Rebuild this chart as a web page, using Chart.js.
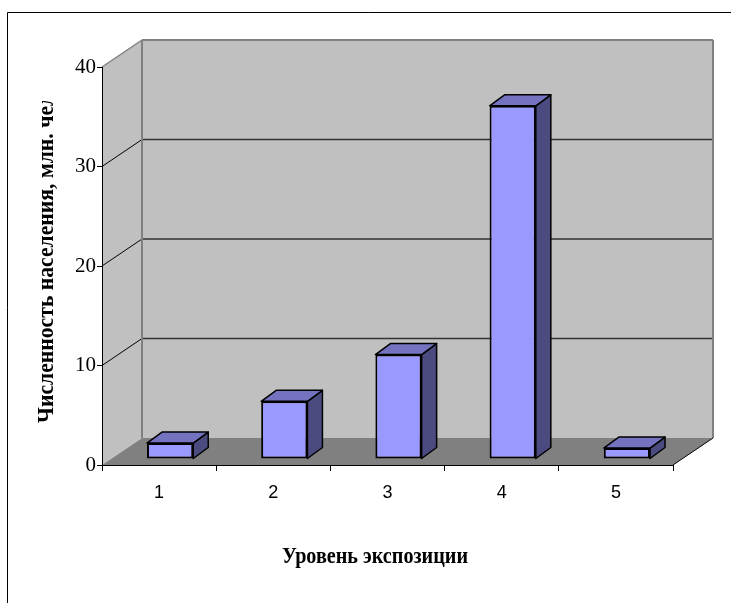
<!DOCTYPE html>
<html>
<head>
<meta charset="utf-8">
<style>
  html, body { margin: 0; padding: 0; background: #fff; overflow: hidden; }
  canvas { display: block; }
</style>
<script src="https://cdn.jsdelivr.net/npm/chart.js@4/dist/chart.umd.min.js"></script>
</head>
<body>
<canvas id="c" width="731" height="603"></canvas>
<script>
// Population by exposure level (millions)
const categories = ['1', '2', '3', '4', '5'];
const population = [1.6, 5.8, 10.5, 35.5, 1.1];
const yMin = 0, yMax = 40, yStep = 10;
const xTitle = 'Уровень экспозиции';
const yTitle = 'Численность населения, млн. чел';

// Pseudo-3D geometry: wall depth, bar row offset, bar depth
const WALL = { dx: 40, dy: -27 };
const ROW = { dx: 11, dy: -6 };
const BAR = { dx: 15, dy: -11 };

const COLORS = {
  wall: '#C0C0C0', floor: '#808080', edge: '#808080', grid: '#333333',
  front: '#9999FF', top: '#7373C0', side: '#4B4B80'
};

function poly(ctx, pts, fill, stroke, lw) {
  ctx.beginPath();
  ctx.moveTo(pts[0][0], pts[0][1]);
  for (let i = 1; i < pts.length; i++) ctx.lineTo(pts[i][0], pts[i][1]);
  ctx.closePath();
  if (fill) { ctx.fillStyle = fill; ctx.fill(); }
  if (stroke) { ctx.strokeStyle = stroke; ctx.lineWidth = lw || 1; ctx.stroke(); }
}
function line(ctx, x1, y1, x2, y2, color, lw) {
  ctx.beginPath();
  ctx.moveTo(x1, y1); ctx.lineTo(x2, y2);
  ctx.strokeStyle = color; ctx.lineWidth = lw; ctx.stroke();
}

const depthPlugin = {
  id: 'depth3d',
  beforeDraw(chart) {
    const ctx = chart.ctx, ca = chart.chartArea, ys = chart.scales.y;
    const L = ca.left, R = ca.right, T = ca.top, B = ca.bottom;
    const dx = WALL.dx, dy = WALL.dy;
    ctx.save();
    // outer frame
    line(ctx, 7.5, 603, 7.5, 12.5, '#000', 1);
    line(ctx, 7.5, 12.5, 731, 12.5, '#000', 1);
    // back wall, side wall, floor
    poly(ctx, [[L + dx, T + dy], [R + dx, T + dy], [R + dx, B + dy], [L + dx, B + dy]], COLORS.wall);
    poly(ctx, [[L, T], [L + dx, T + dy], [L + dx, B + dy], [L, B]], COLORS.wall);
    poly(ctx, [[L, B], [L + dx, B + dy], [R + dx, B + dy], [R, B]], COLORS.floor);
    // gridlines on the back wall and their runs across the side wall
    for (let v = yMin + yStep; v < yMax; v += yStep) {
      const y = ys.getPixelForValue(v);
      line(ctx, L + dx, y + dy, R + dx, y + dy, COLORS.grid, 1.5);
      line(ctx, L, y, L + dx, y + dy, '#000', 1);
    }
    // wall edges
    line(ctx, L, T, L + dx, T + dy, COLORS.edge, 1.5);
    line(ctx, L + dx, T + dy, R + dx, T + dy, COLORS.edge, 2);
    line(ctx, L + dx, T + dy, L + dx, B + dy, COLORS.edge, 2);
    line(ctx, R + dx, T + dy, R + dx, B + dy, COLORS.edge, 2);
    line(ctx, R, B, R + dx, B + dy, '#000', 1);
    ctx.restore();
  },
  beforeDatasetsDraw(chart) {
    chart.ctx.save();
    chart.ctx.translate(ROW.dx, ROW.dy);
  },
  afterDatasetsDraw(chart) {
    const ctx = chart.ctx;
    ctx.lineJoin = 'round';
    chart.getDatasetMeta(0).data.forEach(bar => {
      const p = bar.getProps(['x', 'y', 'width', 'base'], true);
      const l = p.x - p.width / 2, r = p.x + p.width / 2;
      poly(ctx, [[r, p.y], [r + BAR.dx, p.y + BAR.dy], [r + BAR.dx, p.base + BAR.dy], [r, p.base]], COLORS.side, '#000', 1.5);
      poly(ctx, [[l, p.y], [l + BAR.dx, p.y + BAR.dy], [r + BAR.dx, p.y + BAR.dy], [r, p.y]], COLORS.top, '#000', 1.5);
    });
    ctx.restore();
  },
  afterDraw(chart) {
    const ctx = chart.ctx;
    ctx.save();
    ctx.fillStyle = '#000';
    ctx.font = 'bold 24px "Liberation Serif", "Times New Roman", serif';
    // horizontal axis title
    ctx.save();
    const wx = ctx.measureText(xTitle).width;
    ctx.translate(375, 563);
    ctx.scale(186 / wx, 1);
    ctx.textAlign = 'center';
    ctx.textBaseline = 'alphabetic';
    ctx.fillText(xTitle, 0, 0);
    ctx.restore();
    // vertical axis title, cut off at its top
    ctx.save();
    ctx.beginPath();
    ctx.rect(0, 101, 100, 502);
    ctx.clip();
    const wy = ctx.measureText(yTitle.slice(0, -1)).width;
    ctx.translate(53, 423);
    ctx.rotate(-Math.PI / 2);
    ctx.scale(317 / wy, 1);
    ctx.textAlign = 'left';
    ctx.textBaseline = 'alphabetic';
    ctx.fillText(yTitle, 0, 0);
    ctx.restore();
    ctx.restore();
  }
};

new Chart(document.getElementById('c'), {
  type: 'bar',
  data: {
    labels: categories,
    datasets: [{
      data: population,
      backgroundColor: COLORS.front,
      borderColor: '#000',
      borderWidth: 2,
      borderSkipped: false,
      barPercentage: 0.405,
      categoryPercentage: 1
    }]
  },
  options: {
    responsive: false,
    animation: false,
    events: [],
    layout: { padding: { left: 0, top: 67, right: 58, bottom: 0 } },
    plugins: { legend: { display: false }, tooltip: { enabled: false } },
    scales: {
      x: {
        afterFit(s) { s.height = 138; },
        grid: { drawOnChartArea: false, offset: true, tickLength: 6, color: '#000' },
        border: { color: '#000', width: 1 },
        ticks: { color: '#000', padding: 11, font: { family: '"Liberation Sans", Arial, sans-serif', size: 18 } }
      },
      y: {
        min: yMin, max: yMax,
        afterFit(s) { s.width = 102; },
        grid: { drawOnChartArea: false, tickLength: 5, color: '#000' },
        border: { color: '#000', width: 1 },
        ticks: { stepSize: yStep, color: '#000', padding: 1, font: { family: '"Liberation Serif", "Times New Roman", serif', size: 21 } }
      }
    }
  },
  plugins: [depthPlugin]
});
</script>
</body>
</html>
